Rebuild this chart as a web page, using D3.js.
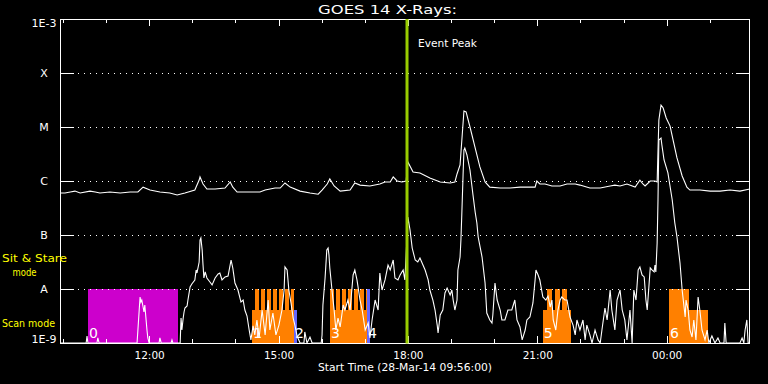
<!DOCTYPE html>
<html><head><meta charset="utf-8">
<script src="https://cdn.jsdelivr.net/npm/d3@7"></script>
<style>html,body{margin:0;padding:0;background:#000;overflow:hidden}text{font-family:"DejaVu Sans",sans-serif}</style>
</head><body><svg id="c" width="768" height="384"></svg>
<script>
// ---- data (hours UT of 28-Mar-14; >24 = next day; flux in W/m^2) ----
const startHour = 9 + 56/60;           // 09:56
const endHour = startHour + 16;
const eventPeakHour = 17.98;
const levelValues = [1e-9, 1e-8, 1e-7, 1e-6, 1e-5, 1e-4, 1e-3];
const levelLabels = ["1E-9", "A", "B", "C", "M", "X", "1E-3"];
const gridLevels = [1e-8, 1e-7, 1e-6, 1e-5, 1e-4];
const majorTickHours = [12, 15, 18, 21, 24];
const majorTickLabels = ["12:00", "15:00", "18:00", "21:00", "00:00"];

const longChannel = [
[9.93,6.0e-7],[10.05,6.0e-7],[10.17,6.25e-7],[10.28,6.5e-7],[10.40,6.0e-7],[10.63,6.5e-7],[10.75,6.25e-7],[10.86,6.0e-7],[11.09,6.25e-7],[11.33,6.0e-7],[11.56,6.25e-7],[11.74,6.25e-7],[11.86,7.7e-7],[12.02,6.8e-7],[12.25,6.25e-7],[12.48,6.0e-7],[12.65,5.5e-7],[12.83,6.0e-7],[13.06,6.8e-7],[13.16,1.04e-6],[13.18,1.19e-6],[13.25,8.8e-7],[13.34,7.1e-7],[13.53,7.1e-7],[13.76,7.4e-7],[13.88,9.6e-7],[13.94,7.7e-7],[14.04,6.25e-7],[14.34,6.25e-7],[14.57,6.25e-7],[14.69,6.8e-7],[14.92,7.4e-7],[15.04,7.4e-7],[15.15,9.2e-7],[15.27,7.7e-7],[15.50,6.5e-7],[15.73,6.0e-7],[15.92,5.7e-7],[16.01,6.8e-7],[16.13,8.8e-7],[16.19,1.09e-6],[16.29,8.1e-7],[16.43,6.5e-7],[16.66,6.8e-7],[16.77,9.2e-7],[16.89,8.4e-7],[17.12,8.1e-7],[17.35,8.8e-7],[17.47,9.6e-7],[17.59,9.6e-7],[17.66,1.19e-6],[17.75,1.0e-6],[17.86,9.6e-7],[17.96,1.0e-6],[18.00,2.25e-6],[18.12,1.47e-6],[18.28,1.41e-6],[18.51,1.14e-6],[18.75,9.6e-7],[18.98,9.2e-7],[19.09,9.6e-7],[19.14,1.35e-6],[19.21,1.98e-6],[19.26,7.1e-6],[19.30,1.98e-5],[19.35,1.9e-5],[19.44,1.0e-5],[19.56,4.1e-6],[19.67,1.82e-6],[19.79,9.6e-7],[19.90,7.7e-7],[20.14,7.4e-7],[20.37,7.4e-7],[20.60,7.7e-7],[20.83,7.7e-7],[20.95,7.7e-7],[20.99,1.0e-6],[21.06,8.8e-7],[21.18,8.8e-7],[21.34,8.1e-7],[21.53,8.1e-7],[21.69,8.8e-7],[21.88,8.8e-7],[21.99,8.4e-7],[22.22,7.4e-7],[22.46,7.4e-7],[22.69,8.1e-7],[22.80,8.4e-7],[22.92,8.1e-7],[23.08,8.8e-7],[23.27,7.7e-7],[23.38,1.04e-6],[23.45,8.8e-7],[23.50,8.1e-7],[23.62,1.0e-6],[23.73,1.0e-6],[23.78,9.6e-7],[23.82,1.35e-5],[23.87,2.55e-5],[23.92,2.25e-5],[23.99,1.47e-5],[24.08,1.04e-5],[24.15,5.7e-6],[24.24,2.67e-6],[24.36,1.24e-6],[24.47,7.7e-7],[24.54,6.8e-7],[24.77,6.8e-7],[25.01,6.5e-7],[25.24,6.5e-7],[25.47,6.8e-7],[25.70,6.5e-7],[25.93,7.1e-7]
];

const shortChannel = [
[9.93,1e-9],[10.54,1e-9],[10.56,1.35e-9],[10.58,1e-9],[10.79,1e-9],[10.81,1.24e-9],[10.84,1e-9],
[11.72,1e-9],[11.77,4.08e-9],[11.79,7.11e-9],[11.81,5.74e-9],[11.83,6.25e-9],[11.86,4.64e-9],[11.88,3.75e-9],[11.90,5.06e-9],[11.93,2.67e-9],[11.95,1.74e-9],[11.97,1.24e-9],[12.00,1e-9],
[12.23,1e-9],[12.25,1.24e-9],[12.28,1e-9],[12.51,1e-9],[12.53,1.14e-9],[12.55,1e-9],[12.72,1e-9],
[12.74,2.9e-9],[12.76,1.74e-9],[12.79,2.9e-9],[12.81,3.75e-9],[12.83,4.45e-9],[12.88,4.84e-9],[12.90,6.25e-9],[12.95,1.09e-8],[12.99,1.24e-8],[13.06,1.47e-8],[13.09,2.25e-8],[13.11,1.98e-8],[13.16,3.16e-8],[13.18,8.08e-8],[13.20,8.8e-8],[13.23,5.27e-8],[13.25,2.78e-8],[13.27,1.6e-8],[13.30,2.07e-8],[13.34,1.6e-8],[13.41,1.35e-8],[13.46,1.19e-8],[13.53,1.6e-8],[13.60,1.9e-8],[13.64,1.98e-8],[13.69,1.47e-8],[13.76,1.67e-8],[13.83,1.74e-8],[13.90,3.44e-8],[13.94,2.45e-8],[13.99,1.29e-8],[14.06,9.58e-9],[14.13,5.74e-9],[14.18,6.25e-9],[14.22,4.08e-9],[14.27,3.16e-9],[14.32,1.74e-9],[14.36,1.14e-9],[14.41,2.07e-9],[14.45,1.41e-9],[14.50,2.67e-9],[14.55,1.24e-9],[14.62,4.08e-9],[14.69,1.41e-9],[14.76,6.25e-9],[14.80,1.74e-9],[14.87,3.59e-9],[14.94,1.41e-9],[15.01,2.15e-9],[15.08,4.08e-9],[15.13,9.58e-9],[15.15,2.56e-8],[15.20,2.25e-8],[15.24,9.58e-9],[15.29,5.51e-9],[15.34,2.9e-9],[15.38,2.15e-9],[15.43,1.35e-9],[15.50,1e-9],[15.59,1e-9],[15.61,1.6e-9],[15.66,1e-9],[15.73,1.29e-9],[15.78,1e-9],[15.99,1e-9],
[16.01,1.41e-9],[16.03,5.06e-9],[16.08,1.6e-8],[16.12,5.27e-8],[16.15,5.74e-8],[16.17,4.26e-8],[16.19,2.45e-8],[16.24,9.58e-9],[16.29,4.08e-9],[16.33,1.74e-9],[16.38,2.9e-9],[16.43,1.98e-9],[16.50,5.06e-9],[16.54,4.08e-9],[16.61,6.25e-9],[16.66,4.08e-9],[16.73,1.82e-8],[16.77,2.25e-8],[16.82,1.47e-8],[16.89,6.25e-9],[16.94,4.08e-9],[17.01,1.74e-9],[17.08,2.35e-9],[17.12,1.24e-9],[17.17,2.67e-9],[17.24,6.25e-9],[17.31,4.08e-9],[17.35,1.98e-8],[17.40,9.58e-9],[17.47,1.47e-8],[17.54,2.78e-8],[17.59,2.25e-8],[17.66,3.44e-8],[17.70,1.6e-8],[17.77,1.47e-8],[17.82,1.82e-8],[17.89,2.25e-8],[17.93,1.47e-8],[17.96,4.26e-8],
[18.00,2.15e-7],[18.05,1.24e-7],[18.10,5.74e-8],[18.17,3.44e-8],[18.23,3.16e-8],[18.28,3.75e-8],[18.35,2.78e-8],[18.40,2.25e-8],[18.47,1.47e-8],[18.51,9.58e-9],[18.58,6.25e-9],[18.63,4.08e-9],[18.68,2.15e-9],[18.70,1.53e-9],[18.75,3.3e-9],[18.81,4.08e-9],[18.86,8.43e-9],[18.91,1.04e-8],[18.98,7.74e-9],[19.02,9.58e-9],[19.05,6.25e-9],[19.09,4.08e-9],[19.14,6.25e-9],[19.16,2.25e-8],[19.21,3.91e-8],[19.23,8.08e-8],[19.25,2.35e-7],[19.28,1.29e-6],[19.30,3.75e-6],[19.32,4.08e-6],[19.37,3.03e-6],[19.44,1.6e-6],[19.51,5.51e-7],[19.56,2.67e-7],[19.60,1.67e-7],[19.63,9.18e-8],[19.72,3.91e-8],[19.79,1.29e-8],[19.83,3.59e-9],[19.90,2.67e-9],[19.95,2.35e-9],[19.97,3.3e-9],
[20.02,1.29e-8],[20.07,6.25e-9],[20.14,4.08e-9],[20.18,2.67e-9],[20.25,2.67e-9],[20.32,4.08e-9],[20.41,4.08e-9],[20.48,6.25e-9],[20.53,2.67e-9],[20.60,1.98e-9],[20.65,1.14e-9],[20.72,1.74e-9],[20.76,2.67e-9],[20.83,3.03e-9],[20.90,5.51e-9],[20.95,1.47e-8],[20.97,2.25e-8],[21.02,1.82e-8],[21.06,1.47e-8],[21.13,7.11e-9],[21.20,6.25e-9],[21.25,7.42e-9],[21.30,4.64e-9],[21.34,6.25e-9],[21.37,2.67e-9],[21.43,1.74e-9],[21.48,4.08e-9],[21.53,6.25e-9],[21.57,7.11e-9],[21.64,6.25e-9],[21.69,6.25e-9],[21.76,3.03e-9],[21.83,2.15e-9],[21.88,1.41e-9],[21.92,2.67e-9],[21.99,1.74e-9],
[22.06,2.67e-9],[22.11,1.14e-9],[22.15,2.15e-9],[22.22,1.41e-9],[22.27,1e-9],[22.34,1.74e-9],[22.41,1.14e-9],[22.46,1e-9],[22.50,1.74e-9],[22.57,4.45e-9],[22.62,2.67e-9],[22.69,9.58e-9],[22.73,4.08e-9],[22.80,1.74e-9],[22.85,6.25e-9],[22.92,9.58e-9],[22.97,4.08e-9],[23.03,2.67e-9],[23.08,1.14e-9],[23.15,4.08e-9],[23.20,1e-9],[23.24,9.58e-9],[23.29,6.25e-9],[23.34,2.25e-8],[23.38,2.56e-8],[23.43,1.82e-8],[23.48,1.67e-8],[23.52,6.25e-9],[23.55,4.08e-9],[23.62,2.45e-8],[23.66,2.25e-8],[23.71,2.07e-8],[23.73,2.78e-8],[23.75,2.07e-8],[23.78,7.11e-8],[23.80,4.45e-7],[23.82,5.74e-6],[23.87,6.25e-6],[23.89,4.64e-6],[23.94,2.45e-6],
[24.03,1.41e-6],[24.13,4.45e-7],[24.19,1.67e-7],[24.24,9.18e-8],[24.31,3.03e-8],[24.36,9.58e-9],[24.43,3.03e-9],[24.45,6.25e-9],[24.50,4.08e-9],[24.54,1.74e-9],[24.59,1.29e-9],[24.63,2.67e-9],[24.68,1.14e-9],[24.73,7.11e-9],[24.77,4.08e-9],[24.82,1.74e-9],[24.89,1.14e-9],[24.94,1.74e-9],[24.98,1e-9],
[25.05,1.35e-9],[25.12,1e-9],[25.19,1.24e-9],[25.24,1e-9],[25.33,1e-9],[25.35,2.35e-9],[25.38,1e-9],[25.70,1e-9],[25.75,1.24e-9],[25.79,1e-9],[25.82,1.74e-9],[25.86,2.67e-9],[25.89,1e-9],[25.93,1e-9]
];

// observing blocks: [kind, startHour, endHour, tall]
const blockKinds = ["sitstare", "scan", "other"];
const observingBlocks = [
["sitstare",10.58,12.67,true],
["scan",14.39,15.36,false],
["scan",14.455,14.547,true],["scan",14.594,14.687,true],["scan",14.733,14.826,true],["scan",14.872,14.965,true],["scan",15.011,15.104,true],["scan",15.151,15.243,true],["scan",15.290,15.360,true],
["other",15.36,15.43,false],
["scan",16.194,17.052,false],
["scan",16.194,16.287,true],["scan",16.333,16.426,true],["scan",16.472,16.565,true],["scan",16.611,16.704,true],["scan",16.750,16.843,true],["scan",16.890,16.982,true],["scan",17.029,17.052,true],
["other",17.052,17.12,true],
["scan",21.13,21.78,false],
["scan",21.225,21.342,true],["scan",21.411,21.528,true],["scan",21.574,21.690,true],
["scan",24.055,24.519,true],
["scan",24.519,24.96,false]
];
const blockTopFlux = {tall: 1e-8, short: 4.08e-9};
const blockNumbers = ["0","1","2","3","4","5","6"];
const blockNumberHours = [10.58,14.39,15.36,16.194,17.052,21.13,24.055];

// ---- drawing ----
const svg = d3.select("#c");
svg.append("rect").attr("width",768).attr("height",384).attr("fill","#000");
const L=60, R=750, T=19, B=343;
const base = Date.UTC(2014,2,28);
const toDate = h => new Date(base + h*3600000);
const x = d3.scaleUtc().domain([toDate(startHour), toDate(endHour)]).range([L,R]);
const y = d3.scaleLog().domain([1e-9,1e-3]).range([B,T]).clamp(true);
const colors = {sitstare:"#cc00cc", scan:"#ff8000", other:"#6666ff"};

svg.append("defs").append("clipPath").attr("id","clip")
  .append("rect").attr("x",L).attr("y",T).attr("width",R-L).attr("height",B-T);

// blocks
svg.append("g").attr("clip-path","url(#clip)").selectAll("rect").data(observingBlocks).join("rect")
  .attr("x", d => Math.round(x(toDate(d[1]))))
  .attr("width", d => Math.max(1, Math.round(x(toDate(d[2]))) - Math.round(x(toDate(d[1])))))
  .attr("y", d => Math.round(y(d[3] ? blockTopFlux.tall : blockTopFlux.short)))
  .attr("height", d => B - Math.round(y(d[3] ? blockTopFlux.tall : blockTopFlux.short)))
  .attr("fill", d => colors[d[0]])
  .attr("shape-rendering","crispEdges");

// gridlines
svg.append("g").selectAll("line").data(gridLevels).join("line")
  .attr("x1",78).attr("x2",736)
  .attr("y1",d=>Math.round(y(d))+0.5).attr("y2",d=>Math.round(y(d))+0.5)
  .attr("stroke","#fff").attr("stroke-width",1).attr("stroke-dasharray","1,5")
  .attr("shape-rendering","crispEdges");

// data
const line = d3.line().x(d=>x(toDate(d[0]))).y(d=>y(d[1]));
const gData = svg.append("g").attr("clip-path","url(#clip)");
gData.append("path").datum(shortChannel).attr("d",line).attr("fill","none").attr("stroke","#fff").attr("stroke-width",1.1);
gData.append("path").datum(longChannel).attr("d",line).attr("fill","none").attr("stroke","#fff").attr("stroke-width",1.1);

// block numbers
svg.append("g").selectAll("text").data(blockNumbers).join("text")
  .attr("x",(d,i)=>x(toDate(blockNumberHours[i]))+1)
  .attr("y",338).attr("fill","#fff")
  .attr("font-size",14).text(d=>d);

// frame
svg.append("rect").attr("x",L+0.5).attr("y",T+0.5).attr("width",R-L-1).attr("height",B-T)
  .attr("fill","none").attr("stroke","#fff").attr("stroke-width",1).attr("shape-rendering","crispEdges");

// x ticks
const hourTicks = x.ticks(d3.utcHour.every(1));
const majorDates = majorTickHours.map(toDate);
const topMinor = d3.axisBottom(x).tickValues(hourTicks).tickSize(4).tickFormat("");
const topMajor = d3.axisBottom(x).tickValues(majorDates).tickSize(7).tickFormat("");
const botMinor = d3.axisTop(x).tickValues(hourTicks).tickSize(4).tickFormat("");
const botMajor = d3.axisTop(x).tickValues(majorDates).tickSize(7).tickFormat("");
function styleAxis(g){ g.select(".domain").remove(); g.selectAll("line").attr("stroke","#fff").attr("shape-rendering","crispEdges"); }
svg.append("g").attr("transform",`translate(0,${T})`).call(topMinor).call(styleAxis);
svg.append("g").attr("transform",`translate(0,${T})`).call(topMajor).call(styleAxis);
svg.append("g").attr("transform",`translate(0,${B})`).call(botMinor).call(styleAxis);
svg.append("g").attr("transform",`translate(0,${B})`).call(botMajor).call(styleAxis);
// x labels
const xl = d3.axisBottom(x).tickValues(majorDates).tickSize(0).tickPadding(0).tickFormat((d,i)=>majorTickLabels[i]);
svg.append("g").attr("transform",`translate(0,${B})`).call(xl).call(g=>{
  g.select(".domain").remove();
  g.selectAll("text").attr("fill","#fff").attr("font-size",10.5).attr("font-family","DejaVu Sans").attr("dy",null).attr("y",16);
});

// y ticks
const yLeft = d3.axisRight(y).tickValues(levelValues.slice(1,6)).tickSize(14).tickFormat("");
const yRight = d3.axisLeft(y).tickValues(levelValues.slice(1,6)).tickSize(14).tickFormat("");
svg.append("g").attr("transform",`translate(${L},0)`).call(yLeft).call(styleAxis);
svg.append("g").attr("transform",`translate(${R},0)`).call(yRight).call(styleAxis);
// y labels
svg.append("g").selectAll("text").data(levelValues).join("text")
  .attr("x",44).attr("text-anchor","middle")
  .attr("y",(d,i)=> i===0 ? B : (i===levelValues.length-1 ? T+8 : y(d)+4))
  .attr("fill","#fff").attr("font-size",11)
  .text((d,i)=>levelLabels[i]);

// mode labels
const yel="#ffff00";
svg.append("text").attr("x",2).attr("y",262).attr("fill",yel).attr("font-size",10).attr("textLength",65).attr("lengthAdjust","spacingAndGlyphs").text("Sit & Stare");
svg.append("text").attr("x",12.5).attr("y",276).attr("fill",yel).attr("font-size",10).attr("textLength",24).attr("lengthAdjust","spacingAndGlyphs").text("mode");
svg.append("text").attr("x",2).attr("y",327).attr("fill",yel).attr("font-size",10.5).attr("textLength",53).attr("lengthAdjust","spacingAndGlyphs").text("Scan mode");

// title and axis title
svg.append("text").attr("x",318).attr("y",14).attr("fill","#fff").attr("font-size",12).attr("textLength",139).attr("lengthAdjust","spacingAndGlyphs").text("GOES 14 X-Rays:");
svg.append("text").attr("x",318).attr("y",371).attr("fill","#fff").attr("font-size",10.5).attr("textLength",174).attr("lengthAdjust","spacingAndGlyphs").text("Start Time (28-Mar-14 09:56:00)");

// event peak
const ex = x(toDate(eventPeakHour));
svg.append("line").attr("x1",ex).attr("x2",ex).attr("y1",T).attr("y2",B+0.5)
  .attr("stroke","#99cc00").attr("stroke-width",3);
svg.append("text").attr("x",418).attr("y",47).attr("fill","#fff").attr("font-size",11).attr("textLength",59).attr("lengthAdjust","spacingAndGlyphs").text("Event Peak");
</script></body></html>
